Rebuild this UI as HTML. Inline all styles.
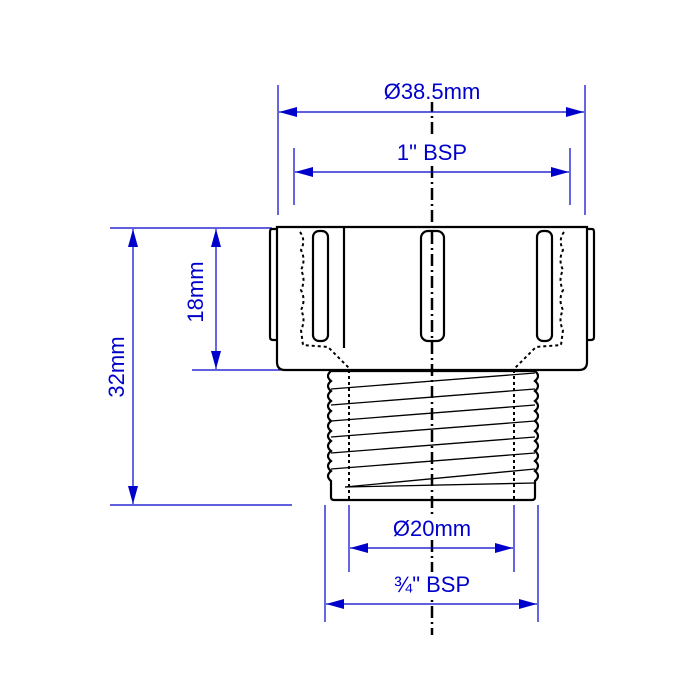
<!DOCTYPE html>
<html><head><style>body{margin:0;background:#fff}svg{display:block}</style></head><body>
<svg width="700" height="700" viewBox="0 0 700 700" xmlns="http://www.w3.org/2000/svg">
<defs>
<marker id="a" viewBox="0 0 18 10" refX="18" refY="5" markerWidth="18" markerHeight="10" markerUnits="userSpaceOnUse" orient="auto-start-reverse"><path d="M0,0L18,5L0,10z" fill="#0000cc"/></marker>
</defs>
<line x1="432" y1="100" x2="432" y2="635" stroke="#000" stroke-width="2.5" stroke-dasharray="12,4,2,4"/>
<g fill="#fff">
<rect x="380" y="78" width="104" height="24"/>
<rect x="390" y="138" width="84" height="25"/>
<rect x="395" y="514" width="76" height="24"/>
<rect x="385" y="572" width="94" height="25"/>
</g>
<g stroke="#0000cc" stroke-width="1.2" fill="none">
<line x1="278" y1="85" x2="278" y2="215"/><line x1="585" y1="85" x2="585" y2="215"/>
<line x1="294" y1="148" x2="294" y2="205"/><line x1="570" y1="148" x2="570" y2="205"/>
<line x1="279" y1="112" x2="584" y2="112" marker-start="url(#a)" marker-end="url(#a)"/>
<line x1="295" y1="172" x2="569" y2="172" marker-start="url(#a)" marker-end="url(#a)"/>
<line x1="110" y1="228" x2="272" y2="228"/><line x1="192" y1="370" x2="282" y2="370"/><line x1="110" y1="505" x2="292" y2="505"/>
<line x1="133" y1="229" x2="133" y2="504" marker-start="url(#a)" marker-end="url(#a)"/>
<line x1="216" y1="229" x2="216" y2="369" marker-start="url(#a)" marker-end="url(#a)"/>
<line x1="325" y1="505" x2="325" y2="622"/><line x1="538" y1="505" x2="538" y2="622"/>
<line x1="349" y1="505" x2="349" y2="572"/><line x1="514" y1="505" x2="514" y2="572"/>
<line x1="350" y1="548" x2="513" y2="548" marker-start="url(#a)" marker-end="url(#a)"/>
<line x1="326" y1="604" x2="537" y2="604" marker-start="url(#a)" marker-end="url(#a)"/>
</g>
<g fill="#0000cc" font-family="Liberation Sans, sans-serif" font-size="22" text-anchor="middle">
<text x="432" y="99">Ø38.5mm</text>
<text x="432" y="160">1" BSP</text>
<text x="432" y="536">Ø20mm</text>
<text x="432" y="592">¾" BSP</text>
<text transform="translate(124,367) rotate(-90)">32mm</text>
<text transform="translate(203,292) rotate(-90)">18mm</text>
</g>
<g stroke="#000" stroke-width="2.2" fill="none">
<path d="M277,227 L587,227 L587,362 Q587,370 579,370 L285,370 Q277,370 277,362 Z"/>
<path d="M277,229 L272,229 Q270,229 270,232 L270,337 Q270,340 273,340 L277,340"/>
<path d="M587,229 L592,229 Q594,229 594,232 L594,337 Q594,340 591,340 L587,340"/>
<line x1="344" y1="228" x2="344" y2="348"/>
<rect x="313" y="231" width="15" height="110" rx="6"/>
<rect x="421" y="231" width="23" height="110" rx="7"/>
<rect x="537" y="231" width="15" height="110" rx="6"/>
<path d="M331,371 L535,371 Q541,376 535,381 Q541,386 535,391 Q541,396 535,401 Q541,406 535,411 Q541,416 535,421 Q541,426 535,431 Q541,436 535,441 Q541,446 535,451 Q541,456 535,461 Q541,466 535,471 Q541,476 535,481 L535,497 Q535,500 532,500 L334,500 Q331,500 331,497 L331,481 Q325,476 331,471 Q325,466 331,461 Q325,456 331,451 Q325,446 331,441 Q325,436 331,431 Q325,426 331,421 Q325,416 331,411 Q325,406 331,401 Q325,396 331,391 Q325,386 331,381 Q325,376 331,371 Z"/>
</g>
<g stroke="#000" stroke-width="1.3">
<line x1="331" y1="389" x2="535" y2="373"/><line x1="331" y1="405" x2="535" y2="389"/>
<line x1="331" y1="421" x2="535" y2="405"/><line x1="331" y1="437" x2="535" y2="421"/>
<line x1="331" y1="453" x2="535" y2="437"/><line x1="331" y1="469" x2="535" y2="453"/>
<line x1="345" y1="487" x2="535" y2="469"/><line x1="345" y1="487" x2="535" y2="483"/>
</g>
<g stroke="#000" stroke-width="2" fill="none" stroke-dasharray="3,3">
<path d="M300,232 Q306,240 301,250 Q306,260 301,270 Q306,280 301,290 Q306,300 301,310 Q306,320 301,330 L303,345 L328,347 L349,368"/>
<path d="M564,232 Q558,240 563,250 Q558,260 563,270 Q558,280 563,290 Q558,300 563,310 Q558,320 563,330 L561,345 L536,347 L515,368"/>
<line x1="349" y1="370" x2="349" y2="500"/><line x1="514" y1="370" x2="514" y2="500"/>
</g>
</svg>
</body></html>
